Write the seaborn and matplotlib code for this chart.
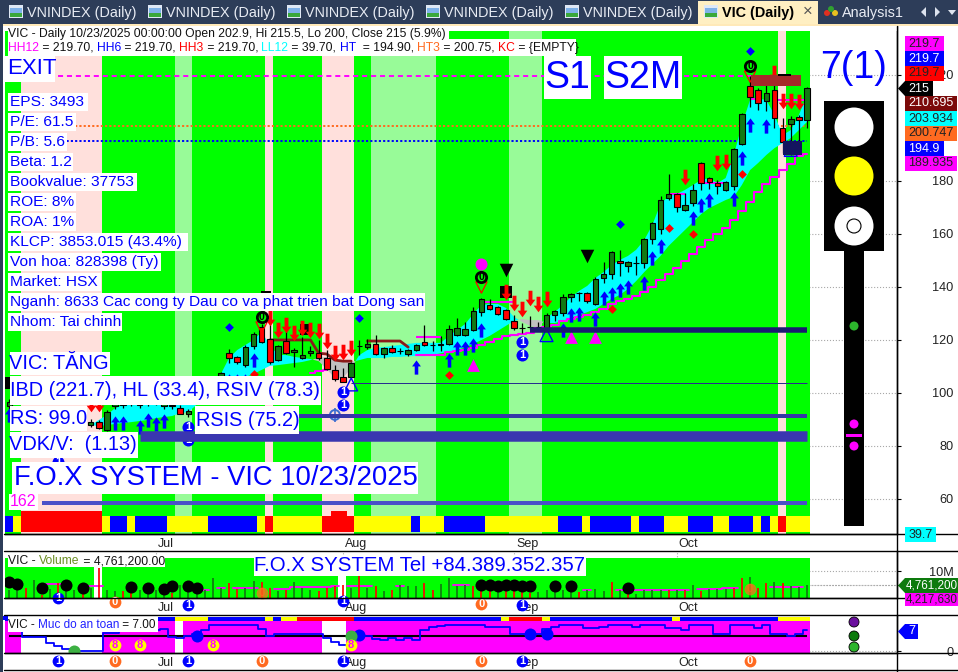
import numpy as np
import matplotlib
matplotlib.use("Agg")
import matplotlib.pyplot as plt
from matplotlib.patches import Rectangle, Circle, Polygon
from matplotlib.lines import Line2D
from matplotlib.path import Path
from matplotlib.transforms import IdentityTransform, ScaledTranslation
import seaborn as sns

# ---------- data ----------
opens = [95.1,92.8,91.5,90.5,91.5,90.5,91.8,88,88,89.5,87.9,89,86,95,95.5,97,95.5,96.5,96.6,95,95.3,94.3,92,97,100,101,104,115,113.6,110.5,117.7,124.9,120.4,112.4,119.6,115.5,113.2,115,115,113.2,108.7,106,106,117.6,117.3,118.5,114.7,117,115.7,114.7,116.2,119.2,118,118.1,118.5,121.9,121.9,123.8,130.5,133.2,132.4,131.3,127.2,124.4,124.9,124.9,124.5,129.4,130.2,136.2,137.6,137.7,133.6,143.4,144.9,149.8,147.9,148.9,149,158.1,161.9,173.6,175.1,169,171.7,186.8,181.1,179.2,176.6,178.1,194,215.8,214.3,210.2,214.3,200,201.5,204.1,202.9]
highs = [97.7,93.6,92.5,92,92.5,92.8,93,90.5,90.5,90.5,90,89.8,93.4,97,98,98,97.5,97.5,98,97.5,96.8,95.5,94,100,103,105,108,116.6,113.9,118,123,126,129.4,118.1,123.8,117,121.1,117.7,120,116.2,110.5,109.4,111.7,120,120.4,121.9,117.3,118.1,117,116.6,118.5,125.6,119.5,121.5,125.6,128.3,126.8,132.4,135.9,135.5,132.8,131.7,129.4,126.4,129,126.8,130.2,131.3,137.3,137.7,138,138.1,143.8,149.4,153.6,153.9,149.8,151.7,158.5,164.5,174.3,182.6,175.5,175.5,178.9,187.2,181.5,180.4,180,192.5,205.7,219.6,215.1,217.4,216.2,203.8,204.5,204.9,215.5]
lows = [94,90.2,89,89.5,88.5,89.5,89,87.5,87,87,87,86.4,85.6,94,94.5,95,94.5,95,95.5,94,94,92,91,96,99,100,103,111.3,110.9,109.8,116.6,118.8,110.9,112,114.7,109.8,112.8,114,112.4,108.7,104.5,104,105.6,114.3,116.6,114.3,113.2,115,114.7,114,115.8,117.7,116,116,118.1,121.5,121.5,123.4,129,131.3,129.4,127.5,123.8,122.6,124,124.2,124.1,127.2,129,134.3,134.7,133.9,133.2,141.5,143,144.1,145.6,144.5,147.2,156.2,160,172.8,168.3,168.7,170.6,176.6,177,175.1,176.2,176.6,193.6,207.9,206.8,206.4,200,190.6,189.8,193.6,200]
closes = [96.6,90.9,89.5,92,89.5,92,90,89.5,89.5,88,89.2,86.8,92.8,96,96.5,95.8,96.8,96.7,96.8,96.2,95.1,92,93.2,99.5,102,104,107.5,113.2,111.7,117.3,122.2,119.2,111.7,117.7,115,116.2,114.3,115.8,113.2,109,105.3,104.1,111.3,117.8,118.5,114.7,117,115.5,115.9,116.2,118.1,118.1,118.2,118.3,124.1,124.5,124.1,130.9,135.5,131.7,129.8,127.9,124.5,124.6,125,125,129.4,130.9,136.2,137.3,137.8,134.7,143,144.9,153.2,149,149.4,149.1,158.1,164.1,172.8,175.1,170.2,170.9,176.6,179.2,179.6,178.1,179.6,192.1,205.3,211.7,209.4,213.2,203.8,194.7,203.4,203,215]
band_a = [np.nan]*10 + [87.9,89.8,91.7,94.3,95.5,95.8,96.2,96.2,96.6,96.6,96.6,96.6,96.6,98.1,100.4,103,107.2,113.2,116.2,118.1,120,123,118.1,114.3,114.3,113.6,113.2,112.8,112,109,105.6,105.6,109.4,114.3,116.2,117,117.3,117.7,118.1,118.5,118.9,118.9,118.9,118.9,121.5,123.8,126,129.8,133.2,133.6,133.6,132.1,128.7,126.8,125.3,124.5,128.3,130.5,133.2,136.2,138.5,140.4,143.4,145.6,148.3,150.2,151.7,154,157.7,163.4,171.3,174.3,175.1,176.6,178.5,180.4,181.1,179.2,181.1,189.8,201.1,210.6,211,210.6,204.9,197.3,199.2,204.9,212.4]
band_b = [np.nan]*10 + [87.9,87.5,87.9,88.3,88.7,89,89.4,89.8,90.5,90.9,91.3,92.4,92.8,95.5,96.6,98.1,99.2,101.5,104.1,106,107.2,108.7,110.2,110.5,110.9,111.3,111.7,112.4,113.2,113.6,112.4,111.7,111.7,112.4,113.2,113.2,113.2,113.6,113.6,113.9,113.9,113.9,114.3,115,115.5,116.2,117.3,118.5,120,121.5,123.4,125.3,127.2,127.9,127.5,127.5,126.4,126.4,127.2,128.3,129.4,130.5,131.7,133.6,135.5,137,139.2,142.2,145.6,148.7,151.7,155.5,158.5,161.5,164.5,167.5,169.8,171.3,172.8,174,178.5,184.1,186.8,189.8,192.4,194.3,196.2,199.2,202.3]
trail = [np.nan]*37 + [107.5,108.3,108.7] + [np.nan]*10 + [114.3,114.3,114.3,114.3,115.5,115.8,116.2,117,118.1,119.2,120.4,121.5,121.9,122.2,122.6,124.5,124.9,125.6,127.2,127.9,128.7,129.4,130.5,131.7,133.6,134.7,135.5,136.6,138.1,140,142.6,144.9,147.2,149.8,152.4,155.1,157.7,160,162.3,165.3,168.7,172,175.8,178.9,181.5,184.1,186.4,189.4,190.2]
brown = [np.nan]*32 + [120.0]*6 + [115,114.7,112.4,112,112] + [np.nan] + [119.6]*5 + [117.3] + [np.nan]*49
res_line = [np.nan]*50 + [121.1]*4 + [np.nan]*4 + [134.3]*5 + [np.nan]*18 + [175.1]*3 + [np.nan] + [179.2]*4 + [np.nan]*2 + [210.9]*2 + [np.nan] + [210.6]*5

volume = [3.1,3.0,3.7,6.8,1.0,3.2,5.6,3.5,3.0,1.5,3.7,11.1,3.0,2.5,2.5,1.9,3.1,4.3,3.0,3.2,1.9,4.9,3.5,1.9,3.1,7.4,3.7,5.6,3.3,3.7,6.2,5.9,3.7,2.5,3.1,5.9,3.7,3.0,2.5,3.7,4.3,5.0,3.7,8.3,3.7,4.3,2.5,2.8,4.9,4.3,4.5,5.6,3.1,5.2,7.4,4.3,4.9,4.3,3.1,2.5,2.5,3.1,2.5,2.5,1.9,2.1,3.1,2.5,3.1,2.5,2.1,3.1,3.3,2.5,5.8,2.8,4.9,1.6,3.1,2.8,2.8,2.8,3.1,3.1,4.9,2.5,3.3,3.3,3.3,3.7,7.4,7.8,3.7,5.6,5.8,5.6,4.3,4.1,4.76]
vol_colors = "ggrgrgrggrgrggrrggggrggggggrrggrrgrgggrrrrgrgrgrgggrrggggrrrgrrrrgggggrgggrgrggggrgrgrggg" + "rrgrrgrg"
vol_ma = [np.nan]*5+[5.2,5.2]+[np.nan]*3+[4.6,4.6]+[np.nan]*12+[3.1,np.nan,3.7,np.nan,3.7,3.7,3.7,np.nan,np.nan,3.5,3.5,4.0,4.0,4.0,4.0,4.0,4.6,np.nan,4.6,4.6,4.6,np.nan,np.nan,np.nan,4.6]+[np.nan]*6+[5.0,5.0]+[np.nan]*14+[3.1,np.nan,np.nan,np.nan,3.1,np.nan,3.0,3.0,3.0,3.0,3.0,3.0,3.0,np.nan,3.3,3.3,3.3,3.6,3.6,np.nan,np.nan,np.nan,np.nan,4.0,4.0,4.0,4.0,np.nan]
vol_dot_x = [0,1,4,7,9,15,17,19,20,22,23,58,59,60,61,62,63,64,67,69,76]
vol_dot_y = [5.9,5.2,3.7,4.8,3.7,4.1,3.7,3.3,4.3,4.3,3.7,4.9,4.9,4.6,4.9,4.9,4.6,4.6,4.6,4.6,3.7]

safety = [7,7,4.56,4.56,4.56,2.8,1.67,.56,.11,.11,.11,.11,5.9,6.1,7,7,7,7,7,7.5,4.56,4.22,5,5.67,7,8.67,8.67,8.67,8.67,8.67,8.67,7.2,5,5.67,5.67,5.67,5.67,5.67,5.67,4.22,3.1,2,2,5.33,5,3.9,3.67,4.22,3.67,4.22,3.67,7,7.9,8.3,8.67,8.67,8.67,8.67,8.67,7.9,7.9,7.9,5.67,5.67,5.67,5.67,7.2,8.1,8.67,8.67,8.67,7.56,7.56,7.9,8.67,8.67,8.67,7.9,8.67,8.67,8.67,7.56,7.56,7,8.67,8.67,8.67,5.67,5.67,8.67,8.67,8.67,7.56,8.67,5.67,5.67,5,5.67,7]

months = ["Jul","Aug","Sep","Oct"]
month_bars = [18,41,62,82]
main_bg_runs = [("g",2),("p",10),("g",9),("l",2),("g",9),("p",1),("g",6),("p",4),("g",2),("l",8),("g",9),("l",4),("g",29),("p",1),("g",3)]
vol_bg_runs = [("g",11),("w",1),("g",29),("w",1),("g",57)]
safe_bg_runs = [("m",2),("w",10),("m",9),("w",1),("m",17),("w",3),("m",57)]
main_strip = [("b",1),("y",1),("r",10),("y",1),("b",2),("y",1),("b",4),("y",5),("b",6),("y",1),("r",1),("y",6),("r",4),("y",7),("b",1),("y",3),("b",5),("y",9),("b",3),("y",1),("b",5),("y",1),("b",3),("y",3),("b",3),("y",2),("b",3),("y",1),("b",1),("y",1),("r",1),("y",3)]
safe_strip = [("b",21),("y",4),("b",7),("y",1),("b",1),("y",2),("r",7),("b",18),("y",1),("r",4),("y",1),("b",15),("y",1),("b",12),("y",4)]

up_x = [0,13,14,16,17,18,19,27,28,29,30,50,54,55,56,57,58,68,69,70,72,73,74,75,76,78,79,80,84,85,86,89,90,91,93]
up_y = [91.7,88.7,88.7,87.1,89.8,88.3,89.4,104.5,104.5,104.5,112.4,109.8,112.4,117,117,118.1,123.8,123.8,129.4,129.8,127.9,135.8,137.3,138.9,140,141.5,150.9,155.5,166,170.9,172.8,173.2,188.7,201.1,200.7]
down_x = [10,11,32,33,34,35,36,37,38,39,40,41,42,61,62,63,64,65,66,83,87,88,94,95,96,97]
down_y = [95.8,95.8,128.3,123.8,125.6,122.6,124.5,123.8,123.4,119.6,115,115.5,117,138.1,134,131.7,135.8,133.6,135.5,181.5,186.8,187.2,220.7,210.2,210.2,209.8]
blue_dia_x = [27,43,75,91]; blue_dia_y = [124.9,128.3,163.8,229]
red_dia_x = [30,54,74,81,84,90]; red_dia_y = [107.2,106.8,131.7,162.3,160,182.6]
mag_tri_x = [57,69,72]; mag_tri_y = [110.5,121.1,121.1]
hollow_tri_x = [42,66,96]; hollow_tri_y = [103.2,121.8,191.7]
black_tri_x = [61,71]; black_tri_y = [146.4,151.7]
zero_x = [31,58,91]; zero_y = [128.7,143.8,223.4]
one_x = [6,22,22,41,41,63,63]; one_y = [74,87.1,82.2,100.4,95.5,119.2,114.3]
levels = [219.7,200.75,194.9]
level_styles = [("#ff00ff",(0,(2.6,2)),92),("#ff6a20",(0,(1.1,1.1)),98),("#0000ff",(0,(1.1,1.1)),98)]
bars_lvl = [123.9,103.7,91.3,83.8,58.5]
bars_lvl_start = [64,42,35,16,4]
bars_lvl_width = [5.5,1,4,10.5,4]
bars_lvl_color = ["#1a1a70","#2a2a90","#3636a8","#3a36b0","#4a50c8"]
tick_prices = [220,180,160,140,120,100,80,60]

safe_blue_x=[23,43,64,66]; safe_blue_y=[5,5.33,5.6,5.6]
safe_green_x=[8,42]; safe_green_y=[0.1,5]
safe_eight_x=[13,16,25,42]; safe_eight_y=[2,2,2,2]
sig_one_x=[6,22,41,63]; sig_zero_x=[13,31,58,91]

# ---------- set-up ----------
W, H = 958, 672
sns.set_theme(style="white")
plt.rcParams["font.family"] = ["Liberation Sans", "DejaVu Sans"]
plt.rcParams["axes.unicode_minus"] = False
fig = plt.figure(figsize=(W/100, H/100), dpi=100, facecolor="white")
IT = IdentityTransform()
L, R = 5, 897
def mkax(top, bot):
    return fig.add_axes([L/W, 1-bot/H, (R-L)/W, (bot-top)/H])
ax1 = mkax(26, 534); ax2 = mkax(551, 598); ax3 = mkax(615, 653)
xlim = ((L-9.3)/8.14, (R-9.3)/8.14)
idx = np.arange(99)
COL = {"g":"#00ff00","p":"#ffe0dc","l":"#98fb98","w":"#ffffff","m":"#ff00ff","b":"#0000ff","y":"#ffff00","r":"#ff0000"}

def runs(ax, seq, y0, y1, z):
    k = 0
    for c, n in seq:
        ax.add_patch(Rectangle((k-0.6, y0), n, y1-y0, transform=ax.get_xaxis_transform(), fc=COL[c], lw=0, zorder=z))
        k += n

for ax in (ax1, ax2, ax3):
    ax.set_facecolor("white")
    ax.set_xlim(*xlim)
    ax.yaxis.tick_right()
    for s in ("top","left"):
        ax.spines[s].set_visible(False)
    for s in ("bottom","right"):
        ax.spines[s].set_color("black"); ax.spines[s].set_linewidth(1.0)
    ax.grid(True, ls=":", color="#a8a8a8", lw=0.8)
    ax.set_axisbelow(True)

def frac(py, top, bot):
    return (bot-py)/(bot-top)

# ---------- main panel ----------
ax1.set_ylim(248.3-0.3774*534, 248.3-0.3774*26)
runs(ax1, main_bg_runs, 0, frac(31,26,534), 0.7)
runs(ax1, main_strip, frac(532,26,534), frac(516,26,534), 2)
ax1.add_patch(Rectangle((1.4,frac(516,26,534)),10,frac(511,26,534)-frac(516,26,534),transform=ax1.get_xaxis_transform(),fc="#ff0000",lw=0,zorder=2))
ax1.add_patch(Rectangle((39.5,frac(516,26,534)),2,frac(511,26,534)-frac(516,26,534),transform=ax1.get_xaxis_transform(),fc="#ff0000",lw=0,zorder=2))

for v,(c,ls,e) in zip(levels, level_styles):
    ax1.hlines(v, 6, e, color=c, linestyles=[ls], lw=1.4, zorder=1)

a = np.array(band_a); b = np.array(band_b)
ax1.fill_between(idx, a, b, where=a>=b, color="#00ffff", lw=0, interpolate=True, zorder=1.5)
ax1.fill_between(idx, a, b, where=a<=b, color="#c0c0c0", lw=0, interpolate=True, zorder=1.5)

o,h,l,c = map(np.array,(opens,highs,lows,closes))
up = c >= o
sns.lineplot(x=idx[37:40], y=np.array(trail)[37:40], ax=ax1, color="#ff00ff", lw=1.5, drawstyle="steps-mid", estimator=None, zorder=3, legend=False)
sns.lineplot(x=idx[50:], y=np.array(trail)[50:], ax=ax1, color="#ff00ff", lw=1.5, drawstyle="steps-mid", estimator=None, zorder=3, legend=False)
ax1.plot(idx, res_line, color="#ff00ff", lw=1.5, zorder=3, solid_capstyle="butt")
ax1.plot(idx, brown, color="#8b1a1a", lw=2.0, zorder=3.2)

ax1.vlines(idx, l, h, color="black", lw=0.9, zorder=4)
ax1.bar(idx, np.abs(c-o), bottom=np.minimum(o,c), width=0.68, color=np.where(up,"#127a12","#ff0000"), edgecolor="black", linewidth=0.8, zorder=4.5)

arrow_up = Path([(0,1),(0.62,0.15),(0.25,0.15),(0.25,-1),(-0.25,-1),(-0.25,0.15),(-0.62,0.15),(0,1)], closed=True)
arrow_dn = Path([(0,-1),(0.62,-0.15),(0.25,-0.15),(0.25,1),(-0.25,1),(-0.25,-0.15),(-0.62,-0.15),(0,-1)], closed=True)
def pts(x, y, marker, s, color, z, ax=ax1):
    sns.scatterplot(x=np.array(x), y=np.array(y), ax=ax, marker=marker, s=s, color=color, linewidth=0, zorder=z, legend=False)
    ax.set_xlabel(""); ax.set_ylabel("")
pts(up_x, up_y, arrow_up, 105, "#0000ff", 5)
pts(down_x, down_y, arrow_dn, 125, "#ff0000", 5)
pts(blue_dia_x, blue_dia_y, "D", 20, "#0000ff", 5)
pts(red_dia_x, red_dia_y, "D", 20, "#ff0000", 5)
pts(mag_tri_x, mag_tri_y, "^", 85, "#ff00ff", 5)
pts(black_tri_x, black_tri_y, "v", 95, "black", 5)
pts([58],[148.6],"o",75,"#ff00ff",5)
ax1.scatter(hollow_tri_x, hollow_tri_y, marker="^", s=85, facecolors="none", edgecolors="#0000ff", linewidths=1, zorder=5)
ax1.scatter(zero_x, np.array(zero_y)-4, marker="v", s=65, facecolors="none", edgecolors="#ff0000", linewidths=0.9, zorder=5)
for x_, y_ in zip(zero_x, zero_y):
    ax1.scatter([x_],[y_], s=55, c="#00ff00", edgecolors="black", linewidths=2, zorder=5.4)
    ax1.text(x_, y_, "0", ha="center", va="center", fontsize=7.5, fontweight="bold", color="black", zorder=5.5)
for x_, y_ in zip(one_x, one_y):
    ax1.scatter([x_],[y_], s=75, c="#0000ff", linewidths=0, zorder=5.4)
    ax1.text(x_, y_, "1", ha="center", va="center", fontsize=8, fontweight="bold", color="white", zorder=5.5)
ax1.scatter([40],[91.7], marker="o", s=50, facecolors="none", edgecolors="#3a6cd0", linewidths=1.4, zorder=6)
ax1.scatter([40],[91.7], marker="+", s=90, c="#3a6cd0", linewidths=1.2, zorder=6)

# blocks and thick levels
ax1.add_patch(Rectangle((91.1,215.9),6.2,4.1,fc="#a52a2a",lw=0,zorder=5.6))
ax1.add_patch(Rectangle((95,189.8),2.4,5.4,fc="#14145f",lw=0,zorder=5.6))
ax1.add_patch(Rectangle((30.9,137.2),1.2,1.2,fc="black",lw=0,zorder=5.6))
ax1.add_patch(Rectangle((94.4,219.5),1.6,0.8,fc="black",lw=0,zorder=5.6))
ax1.add_patch(Rectangle((35.7,122),1.3,4.1,fc="black",lw=0,zorder=4.8))
ax1.add_patch(Rectangle((60.3,135.9),1.5,4.5,fc="black",lw=0,zorder=4.8))
ax1.add_patch(Rectangle((-0.5,101.5),0.6,4.6,fc="black",lw=0,zorder=4.8))
for yv, st, wd, col in zip(bars_lvl, bars_lvl_start, bars_lvl_width, bars_lvl_color):
    ax1.hlines(yv, st, 98, color=col, lw=wd*0.72, zorder=6, capstyle="butt")

ax1.set_yticks(tick_prices)
ax1.set_yticklabels([str(t) for t in tick_prices])

# ---------- volume panel ----------
ax2.set_ylim(0, 47/2.7)
runs(ax2, vol_bg_runs, 0, frac(558,551,598), 0.7)
vc = ["#127a12" if k=="g" else "#ff0000" for k in vol_colors]
ax2.vlines(idx, 0, volume, colors=vc, lw=1.25, zorder=2)
ax2.plot(idx, vol_ma, color="#ff00ff", lw=1.3, drawstyle="steps-mid", zorder=1.5)
pts(vol_dot_x, vol_dot_y, "o", 75, "black", 3, ax=ax2)
ax2.hlines(4.7612, 98.5, xlim[1], color="#a8a8a8", linestyles=":", lw=0.8, zorder=1)
ax2.set_yticks([4.7612,10]); ax2.set_yticklabels(["","10M"])

def sig(ax, xs, ys, label, col, txtcol, z=5, alpha=1):
    for x_, y_ in zip(xs, ys):
        ax.scatter([x_],[y_], s=72, c=col, linewidths=0, zorder=z, clip_on=False, alpha=alpha)
        ax.text(x_, y_, label, ha="center", va="center", fontsize=8, fontweight="bold", color=txtcol, zorder=z+.1, clip_on=False, alpha=alpha)
sig(ax2, [6,22,41,63], [-0.1,-2.6,-1.1,-2.6], "1", "#0000ff", "white")
sig(ax2, [13,58], [-1.5,-2.2], "0", "#ff6a20", "white")
sig(ax2, [31,91], [1.9,3.3], "0", "#ff6a20", "#ff6a20", alpha=.75)

# ---------- safety panel ----------
ax3.set_ylim(-2/3, 12)
runs(ax3, safe_bg_runs, 0, frac(621,615,653), 0.7)
runs(ax3, safe_strip, frac(621,615,653), frac(617,615,653), 0.8)
ax3.hlines(5, 0, 98, color="black", lw=1.5, zorder=2)
ax3.plot(idx, safety, color="#0000ff", lw=1.3, drawstyle="steps-mid", zorder=3)
pts(safe_blue_x, safe_blue_y, "o", 75, "#0000ff", 4, ax=ax3)
pts(safe_green_x, safe_green_y, "o", 75, "#3cb043", 4, ax=ax3)
sig(ax3, safe_eight_x, safe_eight_y, "8", "#ffff00", "#ff00ff")
sig(ax3, sig_one_x, [-3.33]*4, "1", "#0000ff", "white")
sig(ax3, sig_zero_x, [-3.33]*4, "0", "#ff6a20", "white")
ax3.set_yticks([0]); ax3.set_yticklabels(["0"])

nudge = ScaledTranslation(2/100, 0, fig.dpi_scale_trans)
for ax in (ax1, ax2, ax3):
    ax.set_xlim(*xlim)
    ax.set_xlabel(""); ax.set_ylabel("")
    ax.set_xticks(month_bars); ax.set_xticklabels(months, ha="left", fontsize=9, color="#222222")
    ax.tick_params(axis="x", direction="out", length=2.5, width=0.8, pad=0.5, color="black")
    ax.tick_params(axis="y", direction="out", length=3, width=0.8, pad=37.8, color="black", labelsize=9.2, labelcolor="#222222", right=True, left=False)
    for t in ax.get_yticklabels():
        t.set_ha("right")
    for t in ax.xaxis.get_major_ticks():
        t.label1.set_transform(t.label1.get_transform() + nudge)

# ---------- figure level chrome ----------
def rect(x0,y0,x1,y1,fc,z=10):
    fig.add_artist(Rectangle((x0,H-y1),x1-x0,y1-y0,transform=IT,fc=fc,ec="none",lw=0,zorder=z))
def txt(x,y,s,size,color="#0000ff",ha="left",z=11,**kw):
    fig.text(x,H-y,s,fontsize=size,color=color,ha=ha,va="center",transform=IT,zorder=z,**kw)
def box(x0,y0,x1,y1,s,size,color="#0000ff",ha="left",dx=2):
    rect(x0,y0,x1,y1,"white")
    tx = x0+dx if ha=="left" else (x0+x1)/2
    txt(tx,(y0+y1)/2,s,size,color,ha)
def hline(y,x0=4,x1=958):
    fig.add_artist(Line2D([x0,x1],[H-y,H-y],transform=IT,color="black",lw=1.0,zorder=12))
def multi(x,y,parts,size):
    r = fig.canvas.get_renderer()
    probe = fig.text(0,0,"|",fontsize=size)
    bar_w = probe.get_window_extent(r).width
    prefix = ""
    for s,col in parts:
        probe.set_text(prefix+"|")
        off = probe.get_window_extent(r).width-bar_w if prefix else 0
        txt(x+off,y,s,size,col)
        prefix += s
    probe.remove()

# tab bar and frame
rect(0,0,W,24,"#2d3d59",z=8)
rect(0,24,W,26,"#ffe9b8",z=8)
rect(0,24,3,H,"#2d3d59",z=8)
for x0, tx in zip([9,148,287,426,565],[27,166,305,444,583]):
    rect(x0,5,x0+14,18,"#dfe8f5",z=9); rect(x0+1,8,x0+13,15,"#7fb2e8",z=9); rect(x0+1,13,x0+13,17,"#3aa83a",z=9)
    txt(tx,12.5,"VNINDEX (Daily)",10.4,"#e8ecf4")
rect(698,1,818,24,"#ffefc2",z=9)
rect(704,5,718,18,"#dfe8f5",z=9.5); rect(705,8,717,15,"#7fb2e8",z=9.5); rect(705,13,717,17,"#3aa83a",z=9.5)
txt(722,12.5,"VIC (Daily)",10.4,"black",fontweight="bold")
txt(808,11.5,"×",12,"#555555",ha="center")
fig.add_artist(Circle((827,H-13),3,transform=IT,fc="#e03020",ec="none",zorder=9))
fig.add_artist(Circle((835,H-13),3,transform=IT,fc="#e8c020",ec="none",zorder=9))
fig.add_artist(Circle((831,H-9),3,transform=IT,fc="#30a030",ec="none",zorder=9))
txt(842,12.5,"Analysis1",10.4,"#e8ecf4")
fig.add_artist(Polygon([(921,H-12),(926,H-7),(926,H-17)],closed=True,transform=IT,fc="#dde3ee",ec="none",zorder=9))
fig.add_artist(Polygon([(940,H-12),(935,H-7),(935,H-17)],closed=True,transform=IT,fc="#dde3ee",ec="none",zorder=9))
fig.add_artist(Polygon([(948,H-10),(956,H-10),(952,H-15)],closed=True,transform=IT,fc="#dde3ee",ec="none",zorder=9))

# header
rect(8,26,449,39,"white"); rect(8,39,576,56,"white"); rect(449,26,898,31,"white")
txt(8,33.5,"VIC - Daily 10/23/2025 00:00:00 Open 202.9, Hi 215.5, Lo 200, Close 215 (5.9%)",8.75,"#111111")
multi(8,48,[("HH12","#ff00ff"),(" = 219.70, ","#111111"),("HH6","#0000ff"),(" = 219.70, ","#111111"),("HH3","#ff0000"),(" = 219.70, ","#111111"),("LL12","#00ffff"),(" = 39.70, ","#111111"),("HT","#0000ff"),("  = 194.90, ","#111111"),("HT3","#ff6a20"),(" = 200.75, ","#111111"),("KC","#ff0000"),(" = {EMPTY}","#111111")],8.75)

box(5,56,55,82,"EXIT",16)
box(544,56,591,99,"S1",27,ha="center")
box(604,56,682,99,"S2M",27,ha="center")
rows = ["EPS: 3493","P/E: 61.5","P/B: 5.6","Beta: 1.2","Bookvalue: 37753","ROE: 8%","ROA: 1%","KLCP: 3853.015 (43.4%)","Von hoa: 828398 (Ty)","Market: HSX","Nganh: 8633 Cac cong ty Dau co va phat trien bat Dong san","Nhom: Tai chinh"]
ends = [88,76,67,73,137,76,76,188,161,101,425,122]
for k,(s,e) in enumerate(zip(rows,ends)):
    box(8,93+20*k,e,110.5+20*k,s,11.15,dx=1.5)
box(10,352,110,375,"VIC: TĂNG",14.4,dx=-1)
box(10,376,321,405,"IBD (221.7), HL (33.4), RSIV (78.3)",14.3,dx=0.5)
box(10,406,87,431,"RS: 99.0",14.3,dx=0.5)
box(195,406,299,434,"RSIS (75.2)",14.3,dx=0.5)
box(10,432,138,458,"VDK/V:  (1.13)",14.4,dx=-1)
box(12,462,418,494,"F.O.X SYSTEM - VIC 10/23/2025",19.7,dx=2)
box(9,494,38,510,"162",11.5,color="#ff00ff",dx=1)
box(254,555,586,576,"F.O.X SYSTEM Tel +84.389.352.357",14.7,dx=0.5)
rect(8,555,165,567,"white")
multi(8,561,[("VIC - ","#111111"),("Volume","#6b8e23"),(" = 4,761,200.00","#111111")],8.75)
rect(8,617,158,632,"white")
multi(8,624.5,[("VIC - ","#111111"),("Muc do an toan","#2020ff"),(" = 7.00","#111111")],8.5)
rect(3,616,8,620,"#0000ff",z=9)

# traffic light
txt(853.5,68,"7(1)",27,"#0000ff",ha="center")
rect(824,101,884,251,"black"); rect(844,251,864,526,"black")
def dot(x,y,r,fc,ec="none",lw=0):
    fig.add_artist(Circle((x,H-y),r,transform=IT,fc=fc,ec=ec,lw=lw,zorder=11))
dot(854,127,19.5,"white"); dot(854,176,19.5,"#ffff00"); dot(854,226,19.5,"white"); dot(854,226,7,"white","black",0.8)
dot(854,326,4.5,"#2db52d"); dot(854,424,4.5,"#ff00ff"); dot(854,446,4.5,"#ff00ff"); rect(846,434,862,437,"#ff00ff",z=12)
dot(854,622,5,"#6a0f9e","black",0.6); dot(854,636,5,"#0d7a0d","black",0.6); dot(854,647,5,"#2db52d","black",0.6)

# right value tags
tags = [(36,52,944,"219.7","#ff00ff","#222222"),(51,67,944,"219.7","#0000ff","white"),(66,81,944,"219.7","#ff0000","#222222"),(96,111,957,"210.695","#7b0a0a","white"),(111,126,957,"203.934","#00ffff","#222222"),(126,141,957,"200.747","#ff6a20","#222222"),(141,156,944,"194.9","#0000ff","white"),(156,171,957,"189.935","#ff00ff","#222222"),(527,542,936,"39.7","#00ffff","#222222")]
for y0,y1,x1,s,fc,tc in tags:
    rect(905,y0,x1,y1,fc,z=13)
    txt(908.5,(y0+y1)/2,s,9.0,tc,z=14)
rect(905,593,958,606,"#ff00ff",z=13)
txt(906,599.5,"4,217,630",8.4,"#222222",z=14)
for y0,y1,x1,s,fc,tc,tx,fs in [(81,96,933,"215","black","white",908.5,9.0),(578,593,958,"4,761,200","#0d7a0d","white",906,8.4),(624,639,918,"7","#0000ff","white",908.5,9.0)]:
    ym=(y0+y1)/2
    fig.add_artist(Polygon([(898,H-ym),(905,H-y0),(x1,H-y0),(x1,H-y1),(905,H-y1)],closed=True,transform=IT,fc=fc,ec="none",zorder=13))
    txt(tx,ym,s,fs,tc,z=14)

for y in (534,551,598,615,653,670):
    hline(y)
fig.add_artist(Line2D([897,897],[H-26,0],transform=IT,color="black",lw=1.0,zorder=12))

fig.savefig("out.png", dpi=100)
